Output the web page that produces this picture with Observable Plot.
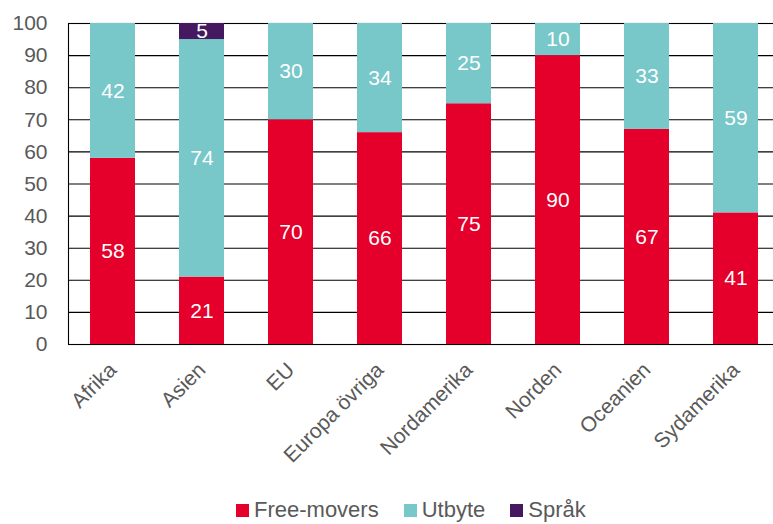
<!DOCTYPE html>
<html>
<head>
<meta charset="utf-8">
<script src="https://cdn.jsdelivr.net/npm/d3@7"></script>
<script src="https://cdn.jsdelivr.net/npm/@observablehq/plot@0.6"></script>
<style>
  body { margin: 0; background: #fff; font-family: "Liberation Sans", Arial, sans-serif; overflow: hidden; position: relative; width: 773px; height: 524px; }
  #legend { position: absolute; left: 236px; top: 498px; height: 24px; line-height: 24px; font-size: 22px; color: #595959; white-space: nowrap; }
  #legend span.item { display: inline-block; margin-right: 25px; }
  #legend span.sw { display: inline-block; width: 13px; height: 13px; margin-right: 5px; vertical-align: baseline; }
</style>
</head>
<body>
<div id="chart"></div>
<div id="legend"></div>
<script>
const categories = ["Afrika", "Asien", "EU", "Europa övriga", "Nordamerika", "Norden", "Oceanien", "Sydamerika"];
const seriesNames = ["Free-movers", "Utbyte", "Språk"];
const freeMovers = [58, 21, 70, 66, 75, 90, 67, 41];
const utbyte = [42, 74, 30, 34, 25, 10, 33, 59];
const sprak = [0, 5, 0, 0, 0, 0, 0, 0];
const colors = ["#E4002B", "#78C7C9", "#45185F"];
const yTicks = [0, 10, 20, 30, 40, 50, 60, 70, 80, 90, 100];

const rows = [];
categories.forEach((c, i) => {
  [freeMovers, utbyte, sprak].forEach((arr, s) => {
    if (arr[i] > 0) rows.push({ category: c, series: seriesNames[s], value: arr[i] });
  });
});

const plot = Plot.plot({
  width: 773,
  height: 492,
  marginLeft: 68,
  marginRight: -7,
  marginTop: 23,
  marginBottom: 148,
  style: { fontFamily: "Liberation Sans, Arial, sans-serif", fontSize: "21px", color: "#595959", overflow: "visible" },
  x: { domain: categories, paddingInner: 0.5, paddingOuter: 0.25, label: null },
  y: { domain: [0, 100], label: null },
  color: { domain: seriesNames, range: colors },
  marks: [
    Plot.ruleY(yTicks, { stroke: "#000", strokeWidth: 1.1 }),
    Plot.frame({ stroke: "#000", strokeWidth: 1.1 }),
    Plot.barY(rows, Plot.stackY({ x: "category", y: "value", fill: "series", order: seriesNames })),
    Plot.text(rows, Plot.stackY({ x: "category", y: "value", z: "series", order: seriesNames, text: d => String(d.value), fill: "white", fontSize: 21 })),
    Plot.axisY({ ticks: yTicks, tickSize: 0, tickPadding: 21, fontSize: 21, fill: "#595959" }),
    Plot.axisX({ tickSize: 0, tickRotate: -45, tickPadding: 22, fontSize: 21, fill: "#595959" })
  ]
});

document.getElementById("chart").appendChild(plot);

const lg = document.getElementById("legend");
seriesNames.forEach((n, i) => {
  const it = document.createElement("span"); it.className = "item";
  const sw = document.createElement("span"); sw.className = "sw"; sw.style.background = colors[i];
  it.appendChild(sw); it.appendChild(document.createTextNode(n));
  lg.appendChild(it);
});
</script>
</body>
</html>
